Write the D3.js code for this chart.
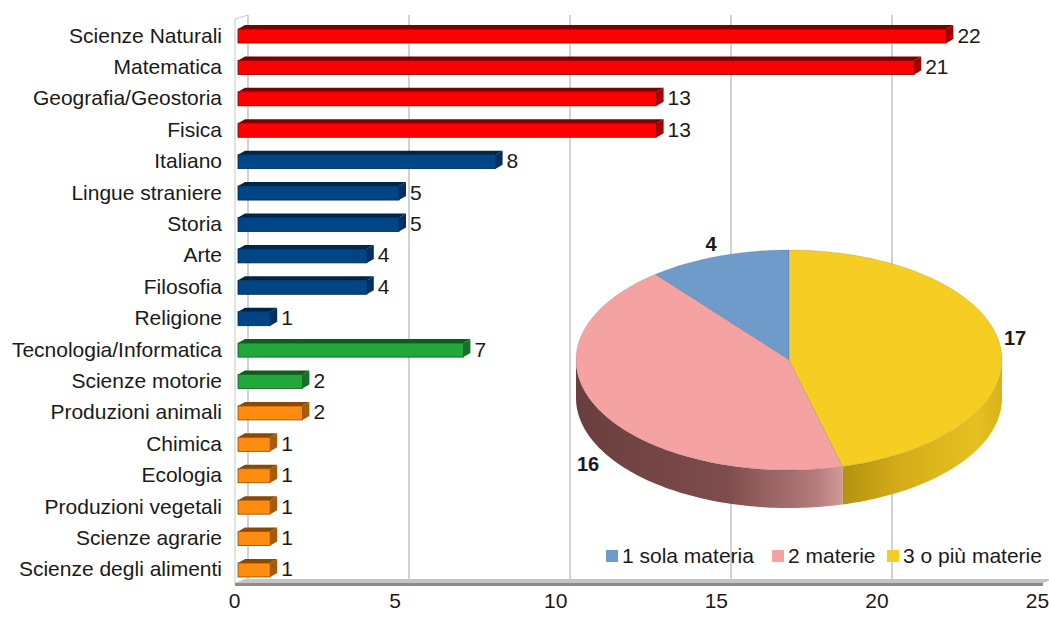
<!DOCTYPE html>
<html><head><meta charset="utf-8">
<script src="https://cdn.jsdelivr.net/npm/d3@7"></script>
<style>
html,body{margin:0;padding:0;background:#fff;}
svg{display:block;font-family:"Liberation Sans",Arial,sans-serif;}
</style></head>
<body><svg id="c" width="1049" height="618"></svg>
<script>
const categories = ["Scienze Naturali","Matematica","Geografia/Geostoria","Fisica","Italiano","Lingue straniere","Storia","Arte","Filosofia","Religione","Tecnologia/Informatica","Scienze motorie","Produzioni animali","Chimica","Ecologia","Produzioni vegetali","Scienze agrarie","Scienze degli alimenti"];
const values = [22,21,13,13,8,5,5,4,4,1,7,2,2,1,1,1,1,1];
const groups = ["a","a","a","a","b","b","b","b","b","b","c","c","d","d","d","d","d","d"];
const xTicks = [0,5,10,15,20,25];
const pieLabels = ["1 sola materia","2 materie","3 o più materie"];
const pieValues = [4,16,17];

const groupFront = {a:"#ff0000", b:"#004586", c:"#22a83a", d:"#ff8c0f"};
const groupTop = {a:"#7d0000", b:"#00254a", c:"#0f5a1c", d:"#8a4a06"};
const groupSide = {a:"#a30000", b:"#003062", c:"#147028", d:"#a85a08"};
const pieFill = ["#6f9bcb","#f5a2a2","#f6cd22"];

const svg = d3.select("#c");
const x = d3.scaleLinear().domain([0,25]).range([238, 1043]);
const xLab = d3.scaleLinear().domain([0,25]).range([234, 1037]);
const y = d3.scaleBand().domain(categories).range([19.3, 584.7]).padding(0);
const wdx = 10, wdy = -4;   // wall depth
const bdx = 7, bdy = -4;    // bar depth
const fontSize = 21;

// left side wall
const g0 = svg.append("g");
g0.append("path")
  .attr("d", `M${x(0)-3},585 L${x(0)-3},19 L${x(0)+wdx},${19+wdy}`)
  .attr("fill","none").attr("stroke","#c8c8c8").attr("stroke-width",1);
// gridlines on back wall
g0.selectAll("line.grid").data(xTicks).join("line")
  .attr("class","grid")
  .attr("x1", d=>x(d)+wdx).attr("x2", d=>x(d)+wdx)
  .attr("y1", 15).attr("y2", 581)
  .attr("stroke","#b4b4b4").attr("stroke-width",1.2);

// floor
g0.append("path")
  .attr("d", `M${x(0)-3},583 L${x(0)+wdx-3},579 L${x(25)+wdx},579 L${x(25)},583 Z`)
  .attr("fill","#c4c4c4");
g0.append("path")
  .attr("d", `M${x(0)-3},583 L${x(25)},583 L${x(25)},586 L${x(0)-3},586 Z`)
  .attr("fill","#8c8c8c");

// bars
const bars = svg.append("g");
const rows = categories.map((c,i)=>({c, v:values[i], g:groups[i]}));
const bg = bars.selectAll("g.bar").data(rows).join("g").attr("class","bar");
const ft = d=> y(d.c)+y.bandwidth()/2 - 6;
const fb = d=> y(d.c)+y.bandwidth()/2 + 8;
bg.append("path") // top face
  .attr("d", d=>`M${x(0)},${ft(d)} L${x(0)+bdx},${ft(d)+bdy} L${x(d.v)+bdx},${ft(d)+bdy} L${x(d.v)},${ft(d)} Z`)
  .attr("fill", d=>groupTop[d.g]);
bg.append("path") // side face
  .attr("d", d=>`M${x(d.v)},${ft(d)} L${x(d.v)+bdx},${ft(d)+bdy} L${x(d.v)+bdx},${fb(d)+bdy} L${x(d.v)},${fb(d)} Z`)
  .attr("fill", d=>groupSide[d.g]);
bg.append("rect") // front face
  .attr("x", x(0)).attr("y", ft)
  .attr("width", d=>x(d.v)-x(0)).attr("height", d=>fb(d)-ft(d))
  .attr("fill", d=>groupFront[d.g])
  .attr("stroke", d=>groupTop[d.g]).attr("stroke-width",0.8);
bg.append("text")
  .attr("x", d=>x(d.v)+bdx+4)
  .attr("y", d=>y(d.c)+y.bandwidth()/2+7.5)
  .attr("font-size", fontSize).attr("fill","#1a1a1a")
  .text(d=>d.v);

// category labels
svg.append("g").selectAll("text").data(categories).join("text")
  .attr("x", 222).attr("y", d=>y(d)+y.bandwidth()/2+7.5)
  .attr("text-anchor","end").attr("font-size",fontSize).attr("fill","#1a1a1a")
  .text(d=>d);

// x axis labels
const ax = svg.append("g").attr("transform","translate(0,593)")
  .call(d3.axisBottom(xLab).tickValues(xTicks).tickSize(0).tickPadding(0));
ax.select(".domain").remove();
ax.selectAll("text").attr("font-size",fontSize).attr("fill","#1a1a1a")
  .attr("font-family","Liberation Sans, Arial, sans-serif");

// pie 3D
const cx = 789, cy = 360, rx = 213, ry = 110, depth = 38;
const pt = (a, dz=0) => [cx + rx*Math.sin(a), cy - ry*Math.cos(a) + dz];
const pie = d3.pie().sort(null).startAngle(0).endAngle(-2*Math.PI);
const arcs = pie(pieValues);
const defs = svg.append("defs");
const gPink = defs.append("linearGradient").attr("id","sidePink")
  .attr("gradientUnits","userSpaceOnUse").attr("x1",cx-rx).attr("x2",cx+60).attr("y1",0).attr("y2",0);
gPink.append("stop").attr("offset","0").attr("stop-color","#6a3e3e");
gPink.append("stop").attr("offset","0.55").attr("stop-color","#7e4c4c");
gPink.append("stop").attr("offset","0.88").attr("stop-color","#b57c7c");
gPink.append("stop").attr("offset","1").attr("stop-color","#d8a0a0");
const gYel = defs.append("linearGradient").attr("id","sideYel")
  .attr("gradientUnits","userSpaceOnUse").attr("x1",cx+50).attr("x2",cx+rx).attr("y1",0).attr("y2",0);
gYel.append("stop").attr("offset","0").attr("stop-color","#b0900f");
gYel.append("stop").attr("offset","0.35").attr("stop-color","#d3ab18");
gYel.append("stop").attr("offset","0.85").attr("stop-color","#e7c020");
gYel.append("stop").attr("offset","1").attr("stop-color","#d6b21b");
const sideFill = [null, "url(#sidePink)", "url(#sideYel)"];

function sample(a0, a1, dz) {
  const n = Math.max(2, Math.ceil(Math.abs(a1-a0)/0.02));
  const p = [];
  for (let i=0;i<=n;i++) p.push(pt(a0+(a1-a0)*i/n, dz));
  return p;
}
const pieG = svg.append("g");
// sides
arcs.forEach((a,i)=>{
  let lo = Math.min(a.startAngle,a.endAngle), hi = Math.max(a.startAngle,a.endAngle);
  const tau = 2*Math.PI;
  while (lo < 0) { lo += tau; hi += tau; }
  [[Math.PI/2, 3*Math.PI/2],[Math.PI/2+tau, 3*Math.PI/2+tau]].forEach(([s,e])=>{
    const a0 = Math.max(lo,s), a1 = Math.min(hi,e);
    if (a1 > a0) {
      const top = sample(a0,a1,0), bot = sample(a1,a0,depth);
      pieG.append("path").attr("d", d3.line()(top.concat(bot))+"Z")
        .attr("fill", sideFill[i] || pieFill[i]);
    }
  });
});
// top faces
arcs.forEach((a,i)=>{
  const p = [[cx,cy]].concat(sample(a.startAngle,a.endAngle,0));
  pieG.append("path").attr("d", d3.line()(p)+"Z")
    .attr("fill", pieFill[i]).attr("stroke","rgba(60,60,60,0.25)").attr("stroke-width",0.6);
});
// pie labels (order: 4, 16, 17)
const pieLabelPos = [[711,251],[588,471],[1015,345]];
pieG.selectAll("text.pl").data(pieValues).join("text")
  .attr("class","pl")
  .attr("x",(d,i)=>pieLabelPos[i][0]).attr("y",(d,i)=>pieLabelPos[i][1])
  .attr("text-anchor","middle").attr("font-weight","bold").attr("font-size",20).attr("fill","#1a1a1a")
  .text(d=>d);

// legend
const legX = [606, 772, 887];
const lg = svg.append("g").selectAll("g").data(pieLabels).join("g")
  .attr("transform",(d,i)=>`translate(${legX[i]},550)`);
lg.append("rect").attr("width",12).attr("height",12).attr("fill",(d,i)=>pieFill[i]);
lg.append("text").attr("x",16).attr("y",13).attr("font-size",fontSize).attr("fill","#1a1a1a").text(d=>d);
</script>
</body></html>
